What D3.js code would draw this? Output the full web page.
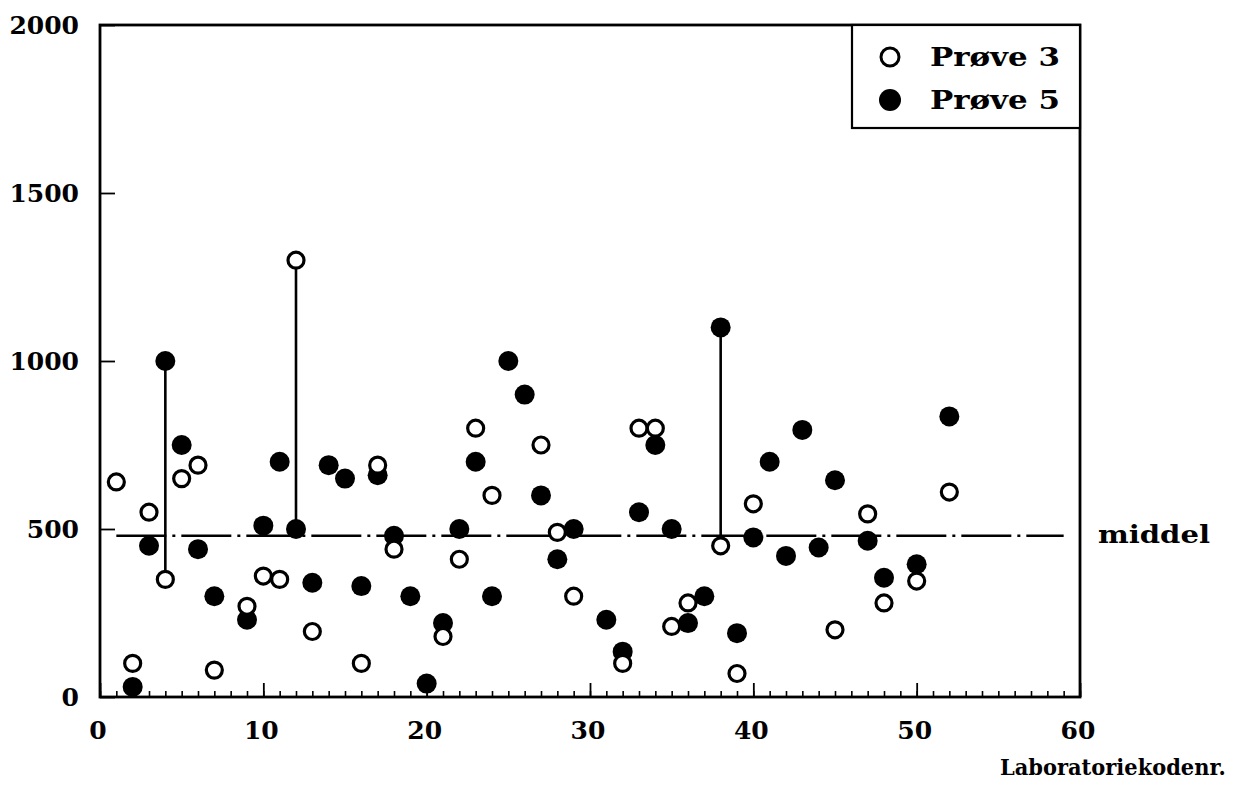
<!DOCTYPE html>
<html>
<head>
<meta charset="utf-8">
<script src="https://cdn.jsdelivr.net/npm/d3@7"></script>
<style>
  html, body { margin: 0; padding: 0; background: #fff; }
  svg { display: block; }
  text { font-family: "DejaVu Serif", "Liberation Serif", serif; font-weight: bold; fill: #000; }
</style>
</head>
<body>
<svg id="chart" width="1235" height="785"></svg>
<script>
// Laboratory codes and results, sample 3 (open) and sample 5 (filled)
const labs3    = [1, 2, 3, 4, 5, 6, 7, 9, 10, 11, 12, 13, 16, 17, 18, 21, 22, 23, 24, 27, 28, 29, 32, 33, 34, 35, 36, 38, 39, 40, 45, 47, 48, 50, 52];
const values3  = [640, 100, 550, 350, 650, 690, 80, 270, 360, 350, 1300, 195, 100, 690, 440, 180, 410, 800, 600, 750, 490, 300, 100, 800, 800, 210, 280, 450, 70, 575, 200, 545, 280, 345, 610];
const labs5    = [2, 3, 4, 5, 6, 7, 9, 10, 11, 12, 13, 14, 15, 16, 17, 18, 19, 20, 21, 22, 23, 24, 25, 26, 27, 28, 29, 31, 32, 33, 34, 35, 36, 37, 38, 39, 40, 41, 42, 43, 44, 45, 47, 48, 50, 52];
const values5  = [30, 450, 1000, 750, 440, 300, 230, 510, 700, 500, 340, 690, 650, 330, 660, 480, 300, 40, 220, 500, 700, 300, 1000, 900, 600, 410, 500, 230, 135, 550, 750, 500, 220, 300, 1100, 190, 475, 700, 420, 795, 445, 645, 465, 355, 395, 835];
// Laboratories whose two results are joined by a line
const linkedLabs = [4, 12, 38];
// Mean value and the span of the mean line
const meanValue = 480;
const meanSpan  = [1, 59];
const xTicks = [0, 10, 20, 30, 40, 50, 60];
const yTicks = [0, 500, 1000, 1500, 2000];
const legendLabels = ["Prøve 3", "Prøve 5"];

const svg = d3.select("#chart");
const plotL = 100, plotR = 1080, plotT = 25, plotB = 697;

const x = d3.scaleLinear().domain([0, 60]).range([plotL, plotR]);
const y = d3.scaleLinear().domain([0, 2000]).range([plotB, plotT]);

// Squeeze a text horizontally so it spans the given width
function fitWidth(sel, width) {
  sel.each(function () {
    const natural = this.getComputedTextLength();
    const k = Math.min(1, width / natural);
    const t = d3.select(this);
    const x0 = +t.attr("x"), y0 = +t.attr("y");
    t.attr("x", 0).attr("y", 0)
     .attr("transform", `translate(${x0},${y0}) scale(${k},1)`);
  });
}

// X axis: minor ticks every unit, major every 10, pointing inward
const xMinor = d3.axisTop(x).tickValues(d3.range(0, 61, 1)).tickSize(6).tickFormat("");
svg.append("g").attr("transform", `translate(0,${plotB})`).call(xMinor)
  .call(g => g.select(".domain").remove())
  .call(g => g.selectAll("line").attr("stroke", "#000").attr("stroke-width", 1.6));
const xMajor = d3.axisTop(x).tickValues(xTicks).tickSize(14).tickFormat("");
svg.append("g").attr("transform", `translate(0,${plotB})`).call(xMajor)
  .call(g => g.select(".domain").remove())
  .call(g => g.selectAll("line").attr("stroke", "#000").attr("stroke-width", 1.8));
svg.append("g").selectAll("text").data(xTicks).join("text")
  .attr("x", d => x(d) - 2).attr("y", 739)
  .attr("text-anchor", "middle").attr("font-size", 25)
  .text(d => d);

// Y axis: inward ticks at each label
const yAxis = d3.axisRight(y).tickValues(yTicks).tickSize(15).tickFormat("");
svg.append("g").attr("transform", `translate(${plotL},0)`).call(yAxis)
  .call(g => g.select(".domain").remove())
  .call(g => g.selectAll("line").attr("stroke", "#000").attr("stroke-width", 1.8));
svg.append("g").selectAll("text").data(yTicks).join("text")
  .attr("x", 79).attr("y", d => y(d) + 9)
  .attr("text-anchor", "end").attr("font-size", 25)
  .text(d => d);

// Frame
svg.append("rect")
  .attr("x", plotL).attr("y", plotT).attr("width", plotR - plotL).attr("height", plotB - plotT)
  .attr("fill", "none").attr("stroke", "#000").attr("stroke-width", 2.8);

// Mean line (dash-dot)
svg.append("line")
  .attr("x1", x(meanSpan[0])).attr("x2", x(meanSpan[1]))
  .attr("y1", y(meanValue)).attr("y2", y(meanValue))
  .attr("stroke", "#000").attr("stroke-width", 2.6)
  .attr("stroke-dasharray", "50,6,3,6");
svg.append("text")
  .attr("x", 1098).attr("y", y(meanValue) + 7)
  .attr("font-size", 25).attr("textLength", 112).attr("lengthAdjust", "spacingAndGlyphs")
  .text("middel");

// Connectors between the two results of selected labs
const v3 = new Map(labs3.map((l, i) => [l, values3[i]]));
const v5 = new Map(labs5.map((l, i) => [l, values5[i]]));
svg.append("g").selectAll("line").data(linkedLabs).join("line")
  .attr("x1", d => x(d)).attr("x2", d => x(d))
  .attr("y1", d => y(v3.get(d))).attr("y2", d => y(v5.get(d)))
  .attr("stroke", "#000").attr("stroke-width", 2.6);

// Sample 5: filled circles
svg.append("g").selectAll("circle").data(labs5).join("circle")
  .attr("cx", d => x(d)).attr("cy", (d, i) => y(values5[i]))
  .attr("r", 10).attr("fill", "#000");

// Sample 3: open circles
svg.append("g").selectAll("circle").data(labs3).join("circle")
  .attr("cx", d => x(d)).attr("cy", (d, i) => y(values3[i]))
  .attr("r", 8).attr("fill", "#fff").attr("stroke", "#000").attr("stroke-width", 3.2);

// Legend
const lg = svg.append("g");
lg.append("rect").attr("x", 852).attr("y", plotT).attr("width", plotR - 852).attr("height", 103)
  .attr("fill", "#fff").attr("stroke", "#000").attr("stroke-width", 2.2);
lg.append("circle").attr("cx", 890).attr("cy", 57).attr("r", 9)
  .attr("fill", "#fff").attr("stroke", "#000").attr("stroke-width", 3);
lg.append("circle").attr("cx", 890).attr("cy", 100).attr("r", 11).attr("fill", "#000");
lg.selectAll("text").data(legendLabels).join("text")
  .attr("x", 930).attr("y", (d, i) => 66 + i * 43)
  .attr("font-size", 26).attr("textLength", 130).attr("lengthAdjust", "spacingAndGlyphs")
  .text(d => d);

// X axis title
svg.append("text")
  .attr("x", 1000).attr("y", 775)
  .attr("font-size", 23)
  .text("Laboratoriekodenr.")
  .call(fitWidth, 226);
</script>
</body>
</html>
